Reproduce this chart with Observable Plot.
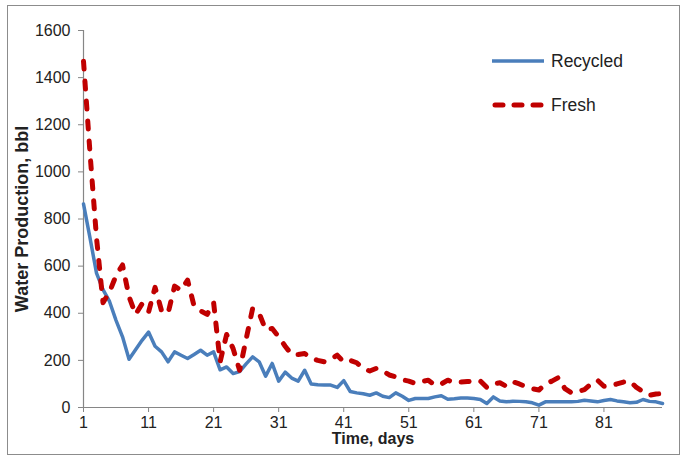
<!DOCTYPE html>
<html><head><meta charset="utf-8">
<script src="https://cdn.jsdelivr.net/npm/d3@7"></script>
<script src="https://cdn.jsdelivr.net/npm/@observablehq/plot@0.6"></script>
<style>
body{margin:0;background:#fff;font-family:"Liberation Sans",Arial,sans-serif;}
#wrap{position:relative;width:683px;height:459px;overflow:hidden;}
#frame{position:absolute;left:7px;top:5px;width:671px;height:448px;border:1px solid #8c8c8c;pointer-events:none;}
.leg{position:absolute;left:492px;font-size:17.5px;color:#222;display:flex;align-items:center;white-space:nowrap;}
.leg svg{margin-right:7px;}
</style></head><body>
<div id="wrap"><div id="chart"></div><div id="frame"></div><div id="legend"></div></div>
<script>
const days = d3.range(1, 91);
const recycled = [864,720,570,500,450,370,300,205,245,285,
  320,260,236,194,236,222,208,225,243,222,
  236,160,172,144,152,185,215,194,133,187,
  112,150,125,112,158,100,97,95,95,85,
  114,68,62,58,52,62,48,42,62,48,
  30,38,38,38,45,50,35,37,40,40,
  38,34,17,45,28,24,27,26,24,20,
  10,24,24,24,24,24,26,31,28,24,
  30,34,28,24,20,22,34,26,24,17];
const fresh = [1470,1080,720,445,490,560,605,470,395,440,
  405,510,410,400,515,498,541,430,410,395,
  445,194,310,250,158,290,421,400,330,335,
  300,260,225,225,229,210,200,194,205,222,
  194,200,190,165,155,166,155,138,130,118,
  112,102,110,116,95,100,116,105,108,110,
  112,113,85,100,105,90,109,100,88,80,
  74,100,112,127,80,62,68,76,100,116,
  90,92,100,108,112,85,68,52,57,59];
const seriesNames = ["Recycled", "Fresh"];
const seriesColors = ["#4A7EBB", "#C00000"];
const xTicks = [1,11,21,31,41,51,61,71,81];
const yTicks = [0,200,400,600,800,1000,1200,1400,1600];
const xLabel = "Time, days";
const yLabel = "Water Production, bbl";

const recRows = days.map((d, i) => ({day: d, value: recycled[i]}));
const freshRows = days.map((d, i) => ({day: d, value: fresh[i]}));

const chart = Plot.plot({
  width: 683, height: 459,
  marginLeft: 83, marginRight: 21, marginTop: 30, marginBottom: 52,
  style: {fontFamily: "'Liberation Sans', Arial, sans-serif", fontSize: "16px", color: "#222", background: "transparent"},
  x: {domain: [1, 90]},
  y: {domain: [0, 1600]},
  marks: [
    Plot.axisX({ticks: xTicks, tickSize: 5, tickPadding: 4, stroke: "#868686", label: null, tickFormat: d => String(d)}),
    Plot.axisY({ticks: yTicks, tickSize: 5, tickPadding: 8, stroke: "#868686", label: null, tickFormat: d => String(d)}),
    Plot.ruleX([1], {stroke: "#868686", strokeWidth: 1.2}),
    Plot.ruleY([0], {stroke: "#868686", strokeWidth: 1.2}),
    Plot.line(recRows, {x: "day", y: "value", stroke: seriesColors[0], strokeWidth: 3.5, strokeLinejoin: "round"}),
    Plot.line(freshRows, {x: "day", y: "value", stroke: seriesColors[1], strokeWidth: 5, strokeDasharray: "8,12", strokeLinecap: "round", strokeLinejoin: "round"}),
    Plot.text([xLabel], {frameAnchor: "bottom", dy: 31, fontWeight: "bold", fontSize: 16, fill: "#222", lineAnchor: "middle", textAnchor: "middle"}),
    Plot.text([yLabel], {frameAnchor: "left", dx: -61, rotate: -90, fontWeight: "bold", fontSize: 18, fill: "#222", lineAnchor: "middle", textAnchor: "middle"})
  ]
});
document.getElementById("chart").appendChild(chart);

const legend = document.getElementById("legend");
const legTops = [48, 92];
seriesNames.forEach((name, i) => {
  const div = document.createElement("div");
  div.className = "leg";
  div.style.top = legTops[i] + "px";
  const dash = i === 1 ? 'stroke-dasharray="8,11" stroke-linecap="round"' : '';
  const sw = i === 1 ? 5 : 3.5;
  div.innerHTML = `<svg width="52" height="26"><line x1="${i===1?3:0}" y1="13" x2="${i===1?49:52}" y2="13" stroke="${seriesColors[i]}" stroke-width="${sw}" ${dash}/></svg><span>${name}</span>`;
  legend.appendChild(div);
});
</script>
</body></html>
